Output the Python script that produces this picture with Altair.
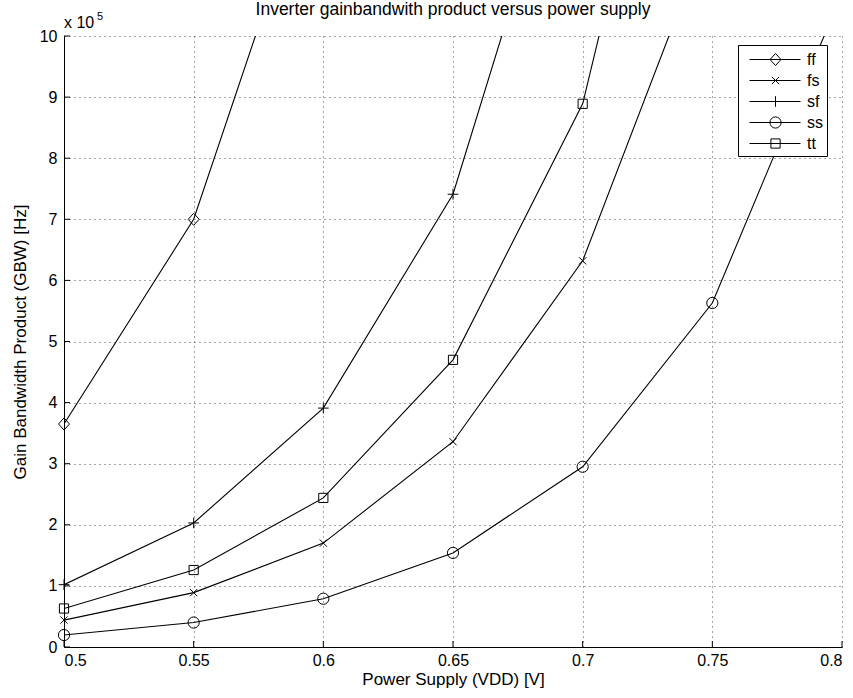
import altair as alt
import pandas as pd

# Supply voltages (V)
vdd = [0.50, 0.55, 0.60, 0.65, 0.70, 0.75, 0.80]

# Gain-bandwidth product (Hz) per process corner
gbw_ff = [3.65e5, 7.00e5, 13.3e5]
gbw_fs = [0.44e5, 0.89e5, 1.70e5, 3.36e5, 6.32e5, 11.85e5]
gbw_sf = [1.02e5, 2.03e5, 3.91e5, 7.41e5, 14.3e5]
gbw_ss = [0.196e5, 0.40e5, 0.79e5, 1.54e5, 2.95e5, 5.63e5, 10.7e5]
gbw_tt = [0.63e5, 1.26e5, 2.44e5, 4.70e5, 8.89e5, 17.7e5]

series = ["ff", "fs", "sf", "ss", "tt"]
values = {"ff": gbw_ff, "fs": gbw_fs, "sf": gbw_sf, "ss": gbw_ss, "tt": gbw_tt}

x_ticks = [0.5, 0.55, 0.6, 0.65, 0.7, 0.75, 0.8]
y_ticks = [i * 1e5 for i in range(11)]
Y_MAX = 1e6

rows = []
for s in series:
    for v, g in zip(vdd, values[s]):
        rows.append({"vdd": v, "gbw": g, "corner": s})
df = pd.DataFrame(rows)

W, H = 778, 611
FONT = "Liberation Sans"
FS = 16


def marker(kind, cx=0.0, k=1.0):
    """SVG path for an open marker centred at (cx, 0); k scales the outline."""
    if kind == "ff":
        r = 1.1 * k
        return f"M{cx},{-r * 1.1}L{cx + r},0L{cx},{r * 1.1}L{cx - r},0Z"
    if kind == "fs":
        r = 0.72 * k
        return f"M{cx - r},{-r}L{cx + r},{r}M{cx - r},{r}L{cx + r},{-r}"
    if kind == "sf":
        r = 1.07 * k
        return f"M{cx - r},0L{cx + r},0M{cx},{-r}L{cx},{r}"
    if kind == "ss":
        r = 1.12 * k
        return (f"M{cx + r},0A{r},{r},0,1,1,{cx - r},0"
                f"A{r},{r},0,1,1,{cx + r},0Z")
    r = 0.92 * k
    return f"M{cx - r},{-r}L{cx + r},{-r}L{cx + r},{r}L{cx - r},{r}Z"


point_paths = [marker(s) for s in series]
# legend samples: a short line with the marker in its middle
legend_paths = [f"M-0.3,0L4.8,0" + marker(s, cx=2.3, k=0.5) for s in series]

x_scale = alt.Scale(domain=[0.5, 0.8], nice=False, zero=False)
y_scale = alt.Scale(domain=[0, Y_MAX], nice=False)

base = alt.Chart(df)

lines = base.mark_line(color="black", strokeWidth=1.1, clip=True).encode(
    x=alt.X("vdd:Q", scale=x_scale,
            axis=alt.Axis(values=x_ticks, labelExpr="format(datum.value, '~g')",
                          title="Power Supply (VDD) [V]")),
    y=alt.Y("gbw:Q", scale=y_scale,
            axis=alt.Axis(values=y_ticks, labelExpr="format(datum.value / 100000, 'd')",
                          title="Gain Bandwidth Product (GBW) [Hz]")),
    detail="corner:N",
    order="vdd:Q",
)

# markers only for points inside the y range; not clipped so edge markers stay whole
points = base.transform_filter(alt.datum.gbw <= Y_MAX).mark_point(
    filled=False, color="black", strokeWidth=1, size=100, opacity=1
).encode(
    x="vdd:Q",
    y="gbw:Q",
    shape=alt.Shape("corner:N", scale=alt.Scale(domain=series, range=point_paths),
                    legend=None),
)

legend_layer = base.mark_point(filled=False, color="black", opacity=0,
                               clip=True).encode(
    x="vdd:Q",
    y="gbw:Q",
    shape=alt.Shape(
        "corner:N",
        scale=alt.Scale(domain=series, range=legend_paths),
        legend=alt.Legend(
            title=None, orient="none", legendX=674, legendY=9,
            symbolSize=400, symbolOpacity=1, symbolStrokeColor="black",
            symbolFillColor="transparent", symbolStrokeWidth=1,
            labelOffset=44, labelFont=FONT, labelFontSize=FS, labelColor="black",
            padding=4, rowPadding=2, strokeColor="black", fillColor="white",
            cornerRadius=0, labelLimit=60,
        ),
    ),
)

tick_x = pd.DataFrame({"v": x_ticks})
tick_y = pd.DataFrame({"v": y_ticks})

x_tick_marks = alt.Chart(tick_x).mark_rule(color="black", strokeWidth=1).encode(
    x=alt.X("v:Q", scale=x_scale), y=alt.value(H), y2=alt.value(H - 6))
y_tick_marks = alt.Chart(tick_y).mark_rule(color="black", strokeWidth=1).encode(
    y=alt.Y("v:Q", scale=y_scale), x=alt.value(0), x2=alt.value(6))

title_text = alt.Chart(pd.DataFrame(
    {"t": ["Inverter gainbandwith product versus power supply"]})).mark_text(
    font=FONT, fontSize=17.5, align="center", baseline="middle", color="black"
).encode(text="t:N", x=alt.value(W / 2), y=alt.value(-26))

exp_base = alt.Chart(pd.DataFrame({"t": ["x 10"]})).mark_text(
    font=FONT, fontSize=FS, align="left", baseline="alphabetic", color="black"
).encode(text="t:N", x=alt.value(0), y=alt.value(-8))
exp_pow = alt.Chart(pd.DataFrame({"t": ["5"]})).mark_text(
    font=FONT, fontSize=11, align="left", baseline="alphabetic", color="black"
).encode(text="t:N", x=alt.value(33), y=alt.value(-16))

chart = alt.layer(
    lines, points, legend_layer, x_tick_marks, y_tick_marks,
    title_text, exp_base, exp_pow
).resolve_scale(shape="independent").properties(
    width=W, height=H,
    autosize="none",
    padding={"left": 64, "top": 36, "right": 11, "bottom": 51},
).configure_view(stroke=None).configure_axis(
    domainColor="black", domainWidth=1, tickSize=0,
    grid=True, gridColor="black", gridOpacity=0.7, gridDash=[1, 4], gridWidth=1,
    labelFont=FONT, labelFontSize=FS, labelColor="black",
    titleFont=FONT, titleFontSize=17, titleFontWeight="normal", titleColor="black",
).configure_axisX(labelPadding=5, titlePadding=3).configure_axisY(
    labelPadding=7, titlePadding=10)

chart.save("out.html", embed_options={"renderer": "svg", "actions": False})
